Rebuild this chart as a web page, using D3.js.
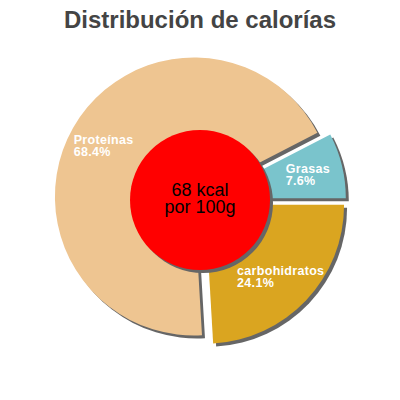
<!DOCTYPE html>
<html>
<head>
<meta charset="utf-8">
<script src="https://cdn.jsdelivr.net/npm/d3@7"></script>
<style>
  body { margin: 0; background: #fff; }
  text { font-family: "Liberation Sans", Arial, sans-serif; }
</style>
</head>
<body>
<div id="chart"></div>
<script>
// Slices in drawing order (clockwise from 3 o'clock)
const labels = ["carbohidratos", "Proteínas", "Grasas"];
const percents = [24.1, 68.4, 7.6];
const colors = ["#DAA520", "#EEC591", "#7AC4CC"];
const centerLines = ["68 kcal", "por 100g"];
const title = "Distribución de calorías";

const width = 400, height = 400;
const cx = 200, cy = 200;
const radius = 139;
const explode = 7;   // slices pulled out from centre
const shadowOff = 3;

const svg = d3.select("#chart")
  .append("svg")
  .attr("width", width)
  .attr("height", height);

// Title
svg.append("text")
  .attr("x", width / 2)
  .attr("y", 28)
  .attr("text-anchor", "middle")
  .style("font-size", "24px")
  .style("font-weight", "bold")
  .style("fill", "#444")
  .text(title);

const data = labels.map((l, i) => ({ label: l, value: percents[i], color: colors[i] }));

const pie = d3.pie()
  .sort(null)
  .value(d => d.value)
  .startAngle(Math.PI / 2)
  .endAngle(Math.PI / 2 + 2 * Math.PI);

const arcs = pie(data);
const arc = d3.arc().innerRadius(0).outerRadius(radius);

const g = svg.append("g").attr("transform", `translate(${cx}, ${cy})`);

// offset of each slice along its mid angle
function offset(d) {
  const a = (d.startAngle + d.endAngle) / 2;
  return [Math.sin(a) * explode, -Math.cos(a) * explode];
}

// Shadows first
g.selectAll(".shadow")
  .data(arcs)
  .enter()
  .append("path")
  .attr("class", "shadow")
  .attr("transform", d => {
    const o = offset(d);
    return `translate(${o[0] + shadowOff}, ${o[1] + shadowOff})`;
  })
  .attr("fill", "#666")
  .attr("d", arc);

// Slices
g.selectAll(".slice")
  .data(arcs)
  .enter()
  .append("path")
  .attr("class", "slice")
  .attr("transform", d => {
    const o = offset(d);
    return `translate(${o[0]}, ${o[1]})`;
  })
  .attr("fill", d => d.data.color)
  .attr("d", arc);

// Slice labels: two left aligned lines, block centred on a ring
const labelArc = d3.arc().innerRadius(111).outerRadius(111);
arcs.forEach(d => {
  const c = labelArc.centroid(d);
  const t = g.append("text")
    .style("font-size", "12.5px")
    .style("font-weight", "bold")
    .style("letter-spacing", "0.3px")
    .style("fill", "#fff");
  t.append("tspan").attr("x", 0).attr("y", -1).text(d.data.label);
  t.append("tspan").attr("x", 0).attr("y", 11).text(d.data.value + "%");
  const w = t.node().getBBox().width;
  t.attr("transform", `translate(${c[0] - w / 2}, ${c[1]})`);
});

// Centre circle with shadow
g.append("circle")
  .attr("cx", shadowOff)
  .attr("cy", shadowOff)
  .attr("r", 70)
  .attr("fill", "#666");

g.append("circle")
  .attr("r", 70)
  .attr("fill", "#FF0000");

g.append("text")
  .attr("text-anchor", "middle")
  .style("font-size", "18px")
  .style("fill", "#000")
  .selectAll("tspan")
  .data(centerLines)
  .enter()
  .append("tspan")
  .attr("x", 0)
  .attr("y", (d, i) => -4 + i * 17)
  .text(d => d);
</script>
</body>
</html>
